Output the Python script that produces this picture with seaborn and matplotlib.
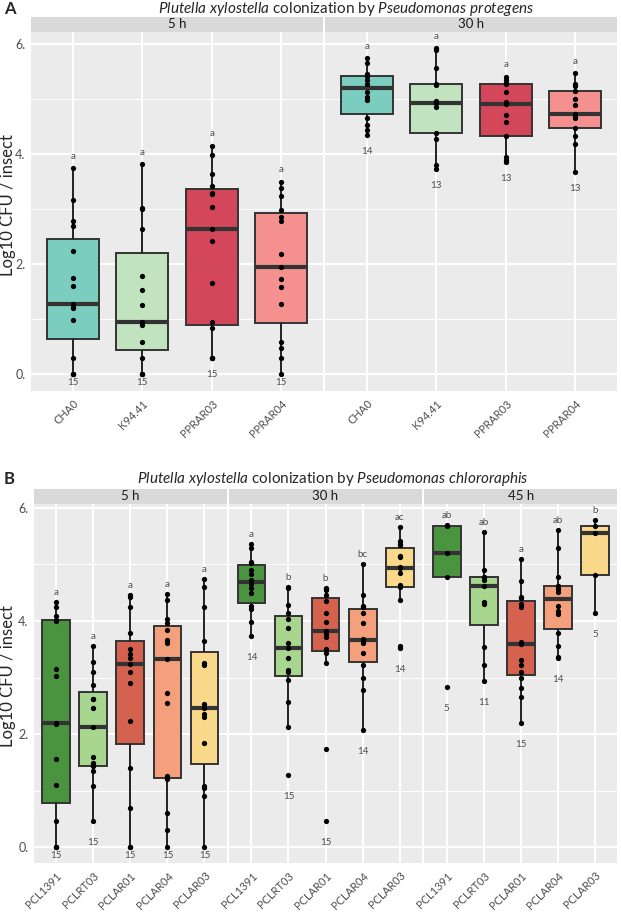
import numpy as np
import pandas as pd
import matplotlib
matplotlib.use("Agg")
import matplotlib.pyplot as plt
import seaborn as sns

sns.set_style("white")
plt.rcParams['font.family'] = ['Lato', 'DejaVu Sans']
plt.rcParams['mathtext.fontset'] = 'custom'
plt.rcParams['mathtext.rm'] = 'Lato'
plt.rcParams['mathtext.it'] = 'Lato:italic'

# ---------------- data ----------------
strains_A = ["CHA0", "K94.41", "PPRAR03", "PPRAR04"]
strains_B = ["PCL1391", "PCLRT03", "PCLAR01", "PCLAR04", "PCLAR03"]
times_A = ["5 h", "30 h"]
times_B = ["5 h", "30 h", "45 h"]

colors_A = ["#7ACDBF", "#C2E3C0", "#D44659", "#F4918F"]
colors_B = ["#4B943F", "#A8D68F", "#D5614F", "#F5A07C", "#FBD98A"]

# Panel A, 5 h
A5_CHA0 = [0, 0, 0, 0.29, 0.99, 1.20, 1.22, 1.27, 1.60, 1.75, 2.23, 2.69, 2.79, 3.17, 3.74]
A5_K9441 = [0, 0, 0, 0.29, 0.59, 0.89, 0.92, 0.95, 1.25, 1.53, 1.78, 2.63, 3.00, 3.02, 3.81]
A5_PPRAR03 = [0.29, 0.29, 0.29, 0.84, 0.95, 1.65, 2.42, 2.63, 3.04, 3.27, 3.30, 3.42, 3.63, 3.98, 4.15]
A5_PPRAR04 = [0, 0.29, 0.47, 0.59, 1.27, 1.58, 1.73, 1.95, 2.19, 2.79, 2.85, 2.99, 3.24, 3.38, 3.50]
# Panel A, 30 h
A30_CHA0 = [4.35, 4.44, 4.53, 4.65, 4.98, 5.03, 5.12, 5.28, 5.35, 5.42, 5.42, 5.45, 5.65, 5.74]
A30_K9441 = [3.72, 3.80, 4.28, 4.38, 4.85, 4.92, 4.93, 4.96, 5.25, 5.28, 5.56, 5.89, 5.92]
A30_PPRAR03 = [3.85, 3.90, 3.95, 4.33, 4.59, 4.71, 4.91, 4.94, 5.12, 5.28, 5.30, 5.35, 5.41]
A30_PPRAR04 = [3.68, 4.18, 4.33, 4.47, 4.65, 4.69, 4.72, 4.89, 5.00, 5.15, 5.24, 5.28, 5.47]

# Panel B, 5 h
B5_PCL1391 = [0, 0, 0, 0.47, 1.10, 1.56, 2.18, 2.19, 3.03, 3.16, 4.00, 4.02, 4.09, 4.24, 4.34]
B5_PCLRT03 = [0.47, 1.08, 1.35, 1.43, 1.45, 1.49, 1.59, 2.13, 2.46, 2.62, 2.62, 2.87, 3.09, 3.28, 3.55]
B5_PCLAR01 = [0, 0, 0.69, 1.40, 2.24, 2.90, 3.09, 3.24, 3.35, 3.42, 3.50, 3.78, 4.24, 4.43, 4.46]
B5_PCLAR04 = [0, 0.30, 0.60, 1.20, 1.26, 2.55, 2.72, 3.32, 3.62, 3.67, 3.85, 3.97, 4.03, 4.37, 4.48]
B5_PCLAR03 = [0, 0.90, 1.04, 1.09, 1.84, 2.30, 2.35, 2.46, 2.54, 3.23, 3.26, 3.65, 4.24, 4.60, 4.74]
# Panel B, 30 h
B30_PCL1391 = [3.73, 3.99, 4.21, 4.27, 4.50, 4.58, 4.65, 4.73, 4.83, 4.91, 5.02, 5.05, 5.29, 5.36]
B30_PCLRT03 = [1.27, 2.13, 2.57, 2.96, 3.10, 3.13, 3.34, 3.52, 3.62, 3.87, 4.04, 4.15, 4.28, 4.58, 4.60]
B30_PCLAR01 = [0.47, 1.73, 3.26, 3.44, 3.50, 3.72, 3.77, 3.82, 3.98, 4.15, 4.35, 4.46, 4.55, 4.57, 4.58]
B30_PCLAR04 = [2.07, 2.78, 2.99, 3.22, 3.43, 3.62, 3.65, 3.69, 3.97, 4.14, 4.24, 4.26, 4.46, 5.01]
B30_PCLAR03 = [3.52, 3.55, 4.37, 4.60, 4.64, 4.85, 4.93, 4.96, 5.13, 5.15, 5.34, 5.37, 5.42, 5.66]
# Panel B, 45 h
B45_PCL1391 = [2.84, 4.77, 5.20, 5.68, 5.70]
B45_PCLRT03 = [2.94, 3.22, 3.54, 4.31, 4.34, 4.62, 4.73, 4.77, 4.77, 4.90, 5.58]
B45_PCLAR01 = [2.19, 2.66, 2.81, 3.00, 3.10, 3.22, 3.31, 3.59, 3.63, 4.25, 4.31, 4.40, 4.43, 4.71, 5.09]
B45_PCLAR04 = [3.34, 3.37, 3.55, 3.78, 4.12, 4.18, 4.27, 4.51, 4.57, 4.62, 4.62, 4.77, 5.30, 5.61]
B45_PCLAR03 = [4.15, 4.81, 5.56, 5.68, 5.78]

letters_A5 = ["a", "a", "a", "a"]
letters_A30 = ["a", "a", "a", "a"]
letters_B5 = ["a", "a", "a", "a", "a"]
letters_B30 = ["a", "b", "b", "bc", "ac"]
letters_B45 = ["ab", "ab", "a", "ab", "b"]

yticks = [0, 2, 4, 6]
ytick_labels = ["0.", "2.", "4.", "6."]
ylabel = "Log10 CFU / insect"

# ---------------- layout helpers ----------------
W, H = 621, 914
fig = plt.figure(figsize=(W / 100, H / 100), dpi=100)
fig.patch.set_facecolor("white")


def px_axes(x0, y0, x1, y1):
    return fig.add_axes([x0 / W, 1 - y1 / H, (x1 - x0) / W, (y1 - y0) / H])


TXT = "#4D4D4D"


def facet(x0, x1, top, bottom, strip_top, label, strains, groups, letters, palette,
          ylim, first, let_off, n_off, n_floor):
    ax = px_axes(x0, top, x1, bottom)
    df = pd.DataFrame({
        "strain": np.repeat(strains, [len(g) for g in groups]),
        "log": np.concatenate([np.asarray(g, float) for g in groups]),
    })
    ax.set_facecolor("#EBEBEB")
    ax.set_axisbelow(True)
    sns.boxplot(data=df, x="strain", y="log", order=strains, hue="strain",
                hue_order=strains, palette=palette, saturation=1, width=0.75,
                linewidth=1.4, linecolor="#333333", showcaps=False,
                showfliers=False, whis=1.5,
                medianprops=dict(linewidth=3.0, color="#333333"),
                whiskerprops=dict(linewidth=1.4, color="#222222"),
                legend=False, ax=ax)
    sns.stripplot(data=df, x="strain", y="log", order=strains, jitter=False,
                  color="black", size=3.8, linewidth=0, ax=ax, zorder=5)
    n = len(strains)
    ax.set_xlim(-0.6, n - 1 + 0.6)
    ax.set_ylim(*ylim)
    ax.set_yticks(yticks)
    ax.set_yticks([1, 3, 5], minor=True)
    ax.grid(which="major", axis="both", color="white", linewidth=1.4)
    ax.grid(which="minor", axis="y", color="white", linewidth=0.7)
    ax.tick_params(which="minor", length=0)
    for s in ax.spines.values():
        s.set_visible(False)
    ax.set_xlabel("")
    ax.set_ylabel("")
    ax.set_xticks(range(n))
    ax.set_xticklabels(strains, rotation=45, ha="right", va="top",
                       rotation_mode="anchor", fontsize=8, color=TXT)
    ax.tick_params(axis="x", length=2.5, width=0.8, color="#333333", pad=2.5)
    if first:
        ax.set_yticklabels(ytick_labels, fontsize=9, color=TXT)
        ax.tick_params(axis="y", length=2.5, width=0.8, color="#333333", pad=1.5)
    else:
        ax.set_yticklabels([])
        ax.tick_params(axis="y", length=0)
    for i, (g, let) in enumerate(zip(groups, letters)):
        ax.text(i, max(g) + let_off, let, ha="center", va="center",
                fontsize=7, color=TXT, zorder=6)
        ax.text(i, max(min(g) - n_off, n_floor), str(len(g)), ha="center",
                va="center", fontsize=7, color=TXT, zorder=6)
    # strip
    sax = px_axes(x0, strip_top, x1, top)
    sax.set_facecolor("#D9D9D9")
    sax.set_xticks([])
    sax.set_yticks([])
    for s in sax.spines.values():
        s.set_visible(False)
    sax.text(0.5, 0.5, label, ha="center", va="center", fontsize=9.5,
             color="#1A1A1A", transform=sax.transAxes)
    return ax


# ---------------- Panel A ----------------
groups_A = [[A5_CHA0, A5_K9441, A5_PPRAR03, A5_PPRAR04],
            [A30_CHA0, A30_K9441, A30_PPRAR03, A30_PPRAR04]]
letters_A = [letters_A5, letters_A30]
xs_A = [(31, 323), (325, 617)]
for k in range(2):
    facet(xs_A[k][0], xs_A[k][1], 32, 391, 17, times_A[k], strains_A, groups_A[k],
          letters_A[k], colors_A, (-0.31, 6.22), k == 0, 0.22, 0.30, -0.16)

# ---------------- Panel B ----------------
groups_B = [[B5_PCL1391, B5_PCLRT03, B5_PCLAR01, B5_PCLAR04, B5_PCLAR03],
            [B30_PCL1391, B30_PCLRT03, B30_PCLAR01, B30_PCLAR04, B30_PCLAR03],
            [B45_PCL1391, B45_PCLRT03, B45_PCLAR01, B45_PCLAR04, B45_PCLAR03]]
letters_B = [letters_B5, letters_B30, letters_B45]
xs_B = [(34, 226.7), (229.2, 421.9), (424.4, 617)]
for k in range(3):
    facet(xs_B[k][0], xs_B[k][1], 504, 863, 489, times_B[k], strains_B, groups_B[k],
          letters_B[k], colors_B, (-0.28, 6.07), k == 0, 0.17, 0.38, -0.14)

# ---------------- titles & labels ----------------
fig.text(4 / W, 1 - 9 / H, "A", fontsize=12, fontweight="bold", va="center", ha="left")
fig.text(4 / W, 1 - 479 / H, "B", fontsize=12, fontweight="bold", va="center", ha="left")
fig.text(346 / W, 1 - 9 / H,
         r"$\mathit{Plutella\ xylostella}$ colonization by $\mathit{Pseudomonas\ protegens}$",
         fontsize=11, ha="center", va="center")
fig.text(333 / W, 1 - 479 / H,
         r"$\mathit{Plutella\ xylostella}$ colonization by $\mathit{Pseudomonas\ chlororaphis}$",
         fontsize=11, ha="center", va="center")
fig.text(8 / W, 1 - 205 / H, ylabel, rotation=90, fontsize=12, ha="center", va="center")
fig.text(8 / W, 1 - 676 / H, ylabel, rotation=90, fontsize=12, ha="center", va="center")

fig.savefig("out.png", dpi=100)
